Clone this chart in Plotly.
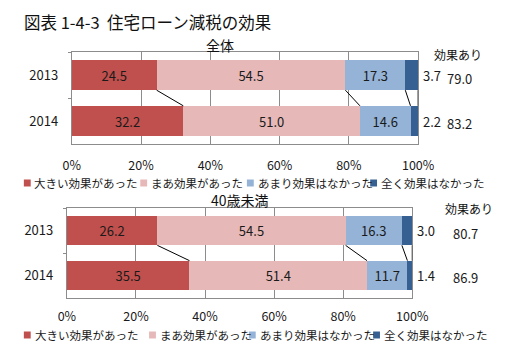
import plotly.graph_objects as go

years = ["2013", "2014"]
series_names = ["大きい効果があった", "まあ効果があった", "あまり効果はなかった", "全く効果はなかった"]
colors = ["#C0504D", "#E6B9B8", "#95B3D7", "#376092"]

all_big = [24.5, 32.2]
all_some = [54.5, 51.0]
all_little = [17.3, 14.6]
all_none = [3.7, 2.2]
all_effect = [79.0, 83.2]

u40_big = [26.2, 35.5]
u40_some = [54.5, 51.4]
u40_little = [16.3, 11.7]
u40_none = [3.0, 1.4]
u40_effect = [80.7, 86.9]

x_ticks = [0, 20, 40, 60, 80, 100]
x_ticktext = ["0%", "20%", "40%", "60%", "80%", "100%"]

FONT = "Noto Sans CJK JP"
TXT = "#1a1a1a"
FW, FH = 491, 344
# mapping from target picture pixels to figure paper coordinates
# (page offset and the horizontal squeeze observed in the rendered picture)
X0, XS, Y0 = 12.0, 0.968, 8.0


def px(x):
    return ((x - X0) / XS) / FW


def py(y):
    return 1 - (y - Y0) / FH


BAR_W = 0.66

fig = go.Figure()

panels = [
    dict(data=[all_big, all_some, all_little, all_none], eff=all_effect, xa="x", ya="y",
         xdom=[px(68), px(422)], ydom=[py(144), py(52)],
         eff_x=464, eff_dy=[3, 2],
         leg_y=183, leg_size=11.5, leg_sq=[19, 138, 247, 373], leg_tx=[27, 147, 256, 382]),
    dict(data=[u40_big, u40_some, u40_little, u40_none], eff=u40_effect, xa="x2", ya="y2",
         xdom=[px(63), px(416)], ydom=[py(298), py(208)],
         eff_x=470, eff_dy=[3, 2],
         leg_y=335, leg_size=11.5, leg_sq=[19, 147, 249, 376], leg_tx=[28, 156, 258, 385]),
]

for p in panels:
    for i, (name, vals) in enumerate(zip(series_names, p["data"])):
        show_text = i < 3
        fig.add_trace(go.Bar(
            y=years, x=vals, name=name, orientation="h",
            marker=dict(color=colors[i], line=dict(width=0)),
            width=BAR_W,
            text=[f"{v:.1f}" for v in vals] if show_text else None,
            textposition="inside" if show_text else "none",
            insidetextanchor="middle", textangle=0,
            textfont=dict(family=FONT, size=13, color=TXT),
            xaxis=p["xa"], yaxis=p["ya"], showlegend=False,
            hoverinfo="skip",
        ))
    # connector lines between the two bars at cumulative boundaries
    cum = [0, 0]
    for vals in p["data"]:
        cum = [cum[0] + vals[0], cum[1] + vals[1]]
        fig.add_shape(type="line", xref=p["xa"], yref=p["ya"],
                      x0=cum[0], y0=0 + BAR_W / 2, x1=cum[1], y1=1 - BAR_W / 2,
                      line=dict(color="black", width=1))
    # small segment labels placed outside the bar end
    for yi, v in enumerate(p["data"][3]):
        fig.add_annotation(x=100, y=yi, xref=p["xa"], yref=p["ya"], text=f"{v:.1f}",
                           showarrow=False, xanchor="left", xshift=3,
                           font=dict(family=FONT, size=13, color=TXT))
    # "効果あり" totals
    for yi, v in enumerate(p["eff"]):
        fig.add_annotation(x=px(p["eff_x"]), y=yi, xref="paper", yref=p["ya"], text=f"{v:.1f}",
                           showarrow=False, xanchor="center", yshift=-p["eff_dy"][yi],
                           font=dict(family=FONT, size=13, color=TXT))
    # legend (drawn manually to match the compact reference layout)
    for i, name in enumerate(series_names):
        x0 = p["leg_sq"][i]
        yc = p["leg_y"]
        fig.add_shape(type="rect", xref="paper", yref="paper",
                      x0=px(x0), x1=px(x0 + 7), y0=py(yc + 3.5), y1=py(yc - 3.5),
                      fillcolor=colors[i], line=dict(width=0))
        fig.add_annotation(text=name, x=px(p["leg_tx"][i]), y=py(yc), xref="paper", yref="paper",
                           showarrow=False, xanchor="left", yanchor="middle",
                           font=dict(family=FONT, size=p["leg_size"], color=TXT))

xaxis_common = dict(range=[0, 100], tickvals=x_ticks, ticktext=x_ticktext,
                    showgrid=True, gridcolor="#8C8C8C", gridwidth=1,
                    showline=True, linecolor="#8C8C8C", mirror=True, zeroline=False,
                    tickfont=dict(family=FONT, size=12.5, color=TXT))
yaxis_common = dict(autorange="reversed", showgrid=False, showline=True, linecolor="#8C8C8C",
                    mirror=True, ticks="outside", tickson="boundaries", ticklen=3,
                    tickcolor="#8C8C8C", ticklabelstandoff=10,
                    tickfont=dict(family=FONT, size=13, color=TXT))

fig.update_layout(
    width=FW, height=FH, margin=dict(l=0, r=0, t=0, b=0),
    paper_bgcolor="white", plot_bgcolor="white",
    barmode="stack", showlegend=False,
    font=dict(family=FONT, size=13, color=TXT),
    xaxis=dict(domain=panels[0]["xdom"], anchor="y", ticklabelstandoff=10, **xaxis_common),
    yaxis=dict(domain=panels[0]["ydom"], anchor="x", **yaxis_common),
    xaxis2=dict(domain=panels[1]["xdom"], anchor="y2", ticklabelstandoff=7, **xaxis_common),
    yaxis2=dict(domain=panels[1]["ydom"], anchor="x2", **yaxis_common),
)

texts = [
    ("図表 1-4-3  住宅ローン減税の効果", 17, 22, "left", 16.5),
    ("全体", 220, 45, "center", 14),
    ("効果あり", 463, 54, "center", 12),
    ("40歳未満", 240, 200, "center", 14),
    ("効果あり", 474, 208, "center", 12),
]
for t, x, y, xa, s in texts:
    fig.add_annotation(text=t, x=px(x), y=py(y), xref="paper", yref="paper", showarrow=False,
                       xanchor=xa, yanchor="middle", font=dict(family=FONT, size=s, color="#111"))

fig.write_html("out.html")
